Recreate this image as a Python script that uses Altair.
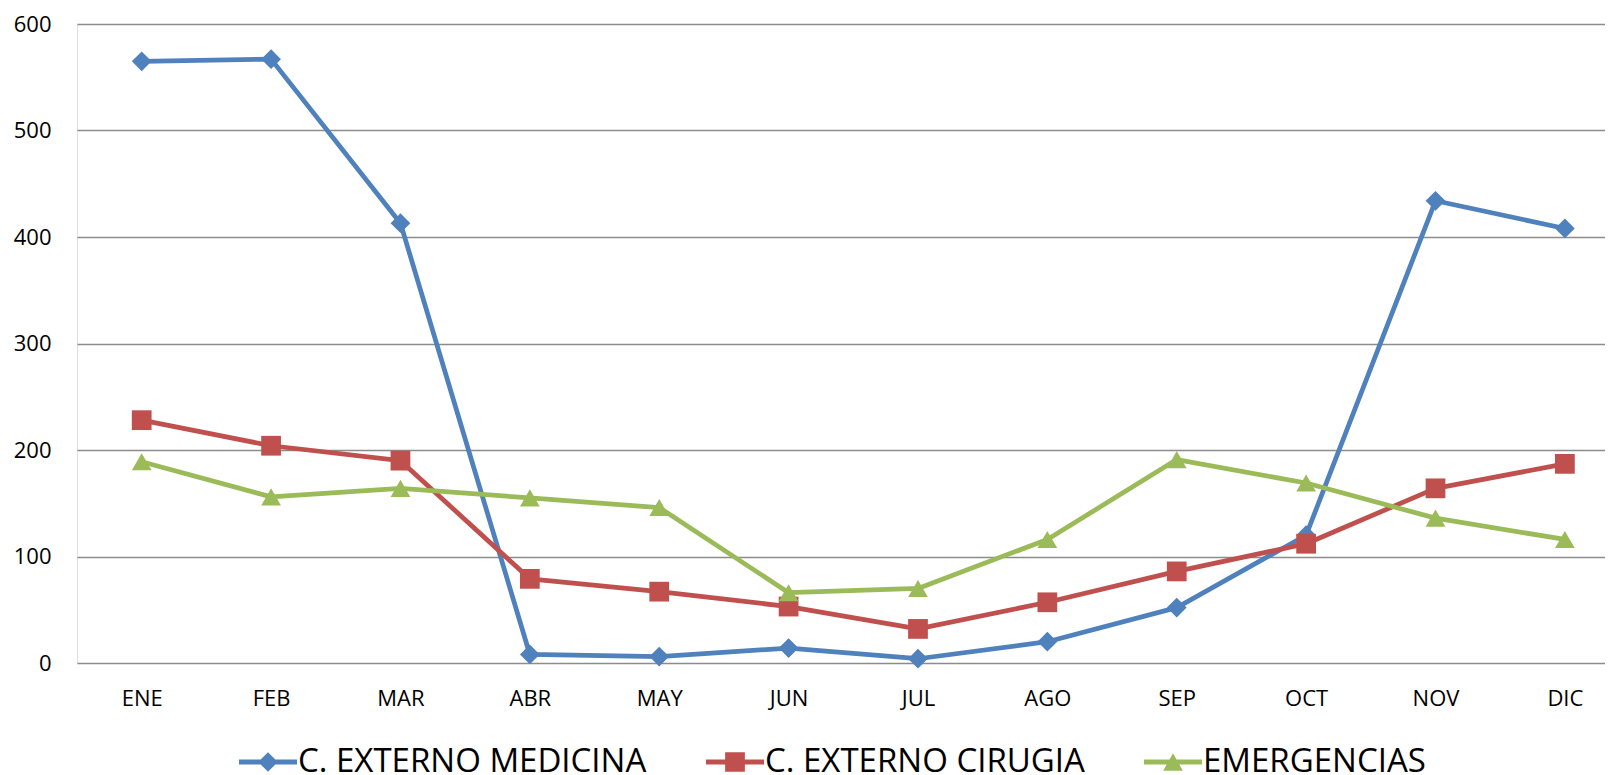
import json
import altair as alt
import pandas as pd

months = ["ENE", "FEB", "MAR", "ABR", "MAY", "JUN", "JUL", "AGO", "SEP", "OCT", "NOV", "DIC"]
series_names = ["C. EXTERNO MEDICINA", "C. EXTERNO CIRUGIA", "EMERGENCIAS"]
medicina = [565, 567, 413, 8, 6, 14, 4, 20, 52, 120, 434, 408]
cirugia = [228, 204, 190, 79, 67, 53, 32, 57, 86, 112, 164, 187]
emergencias = [189, 156, 164, 155, 146, 66, 70, 116, 191, 169, 136, 116]
y_ticks = [0, 100, 200, 300, 400, 500, 600]

colors = ["#4F81BD", "#C0504D", "#9BBB59"]
shapes = ["diamond", "square", "triangle-up"]

rows = []
for name, vals in zip(series_names, [medicina, cirugia, emergencias]):
    for i, v in enumerate(vals):
        rows.append({"idx": i, "mes": months[i], "serie": name, "valor": v})
df = pd.DataFrame(rows)

# legend symbols: line segment + marker, as custom paths
bar = "M-1,-0.086L1,-0.086L1,0.086L-1,0.086Z"
legend_paths = [
    bar + "M0,-0.34L0.34,0L0,0.34L-0.34,0Z",
    bar + "M-0.34,-0.34L0.34,-0.34L0.34,0.34L-0.34,0.34Z",
    bar + "M0,-0.3L0.34,0.3L-0.34,0.3Z",
]

legend = alt.Legend(
    title=None,
    orient="none",
    legendX=162,
    legendY=709,
    direction="horizontal",
    columns=3,
    columnPadding=59,
    padding=0,
    labelFont="Open Sans",
    labelFontSize=33,
    labelColor="#000000",
    labelLimit=0,
    labelOffset=1,
    symbolSize=3364,
    symbolStrokeWidth=0,
    symbolOpacity=1,
)

label_expr = f"{json.dumps(months)}[datum.value]"

x_enc = alt.X(
    "idx:Q",
    scale=alt.Scale(domain=[-0.5, 11.31], nice=False, zero=False),
    axis=alt.Axis(
        title=None,
        values=list(range(len(months))),
        labelExpr=label_expr,
        grid=False,
        domain=False,
        ticks=False,
        tickSize=0,
        labelPadding=25,
        labelFont="Open Sans",
        labelFontSize=22,
        labelColor="#000000",
        labelFlush=False,
        labelOverlap=False,
        labelBound=False,
    ),
)
y_enc = alt.Y(
    "valor:Q",
    scale=alt.Scale(domain=[0, 600], nice=False, zero=True),
    axis=alt.Axis(
        title=None,
        values=y_ticks,
        grid=True,
        gridColor="#8C8C8C",
        gridWidth=1.5,
        domain=False,
        ticks=False,
        tickSize=0,
        labelPadding=26,
        labelFont="Open Sans",
        labelFontSize=22,
        labelColor="#000000",
    ),
)

layers = []
for name, shape, col in zip(series_names, shapes, colors):
    base = alt.Chart(df).transform_filter(alt.datum.serie == name)
    line = base.mark_line(
        strokeWidth=4.75, strokeJoin="round", strokeCap="round", color=col
    ).encode(x=x_enc, y=y_enc)
    pts = base.mark_point(
        filled=True, opacity=1, size=390, shape=shape, color=col
    ).encode(x=x_enc, y=y_enc)
    layers += [line, pts]

# empty layer that only carries the legend (line + marker symbols)
legend_layer = (
    alt.Chart(df)
    .transform_filter(alt.datum.idx < 0)
    .mark_point(filled=True, opacity=1, size=3364)
    .encode(
        x=x_enc,
        y=y_enc,
        color=alt.Color(
            "serie:N",
            scale=alt.Scale(domain=series_names, range=colors),
            sort=series_names,
            legend=legend,
        ),
        shape=alt.Shape(
            "serie:N",
            scale=alt.Scale(domain=series_names, range=legend_paths),
            sort=series_names,
            legend=legend,
        ),
    )
)
layers.append(legend_layer)

chart = (
    alt.layer(*layers)
    .properties(
        width=1528,
        height=639,
        padding={"left": 5, "top": 5, "right": 0, "bottom": 0},
    )
    .configure_view(stroke=None)
    .configure(background="#FFFFFF")
)

chart.save("out.html", embed_options={"renderer": "svg", "actions": False})
